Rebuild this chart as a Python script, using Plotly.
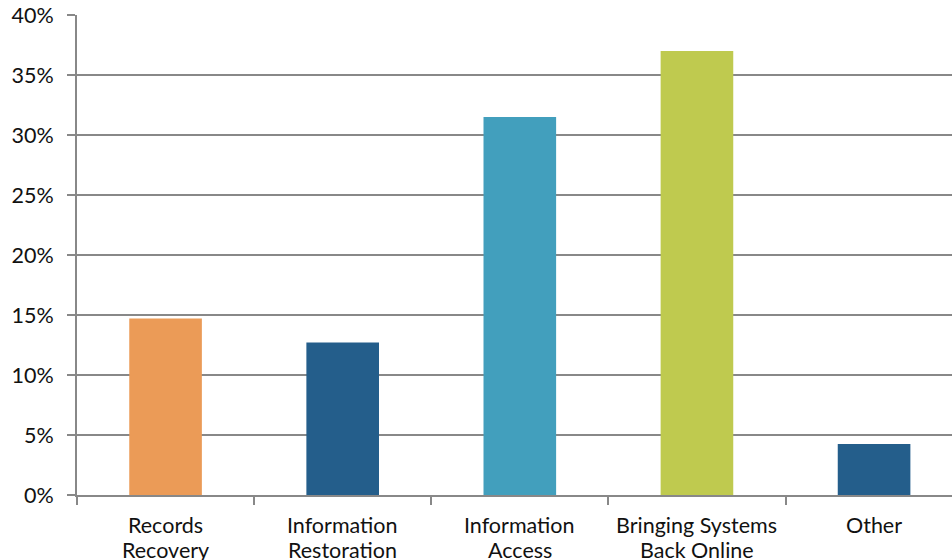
import plotly.graph_objects as go

categories = ["Records Recovery", "Information Restoration", "Information Access",
              "Bringing Systems Back Online", "Other"]
label_lines = [("Records", "Recovery"), ("Information", "Restoration"), ("Information", "Access"),
               ("Bringing Systems", "Back Online"), ("Other", "")]
values = [14.7, 12.7, 31.5, 37.0, 4.25]
colors = ["#EB9B57", "#245E8B", "#429FBD", "#BFCA4F", "#245E8B"]
y_ticks = [0, 5, 10, 15, 20, 25, 30, 35, 40]

fig = go.Figure(go.Bar(x=categories, y=values, marker=dict(color=colors, line=dict(width=0)),
                       width=0.41))

FONT = "Lato"
FS = 21.5
fig.update_layout(
    width=952, height=560,
    margin=dict(l=77, r=0, t=15, b=65),
    plot_bgcolor="white", paper_bgcolor="white",
    showlegend=False,
    font=dict(family=FONT, size=FS, color="#111111"),
)
for cat, (l1, l2) in zip(categories, label_lines):
    for txt, shift in ((l1, -30), (l2, -55)):
        if txt:
            fig.add_annotation(x=cat, y=0, xref="x", yref="y", text=txt, showarrow=False,
                               yanchor="middle", xanchor="center", yshift=shift, borderpad=0,
                               font=dict(family=FONT, size=FS, color="#111111"))
fig.update_xaxes(
    type="category", range=[-0.5, 4.44], automargin=False, showticklabels=False,
    showline=True, linecolor="#888888", linewidth=2,
    ticks="outside", tickson="boundaries", ticklen=8, tickwidth=2, tickcolor="#888888",
    showgrid=False,
)
fig.update_yaxes(
    range=[0, 40], tickvals=y_ticks, ticktext=[f"{v}%" for v in y_ticks],
    showline=True, linecolor="#888888", linewidth=2, automargin=False,
    ticks="outside", ticklen=8, tickwidth=2, tickcolor="#888888",
    showgrid=True, gridcolor="#888888", gridwidth=2,
    zeroline=False, ticklabelstandoff=9,
)
fig.write_html("out.html")
